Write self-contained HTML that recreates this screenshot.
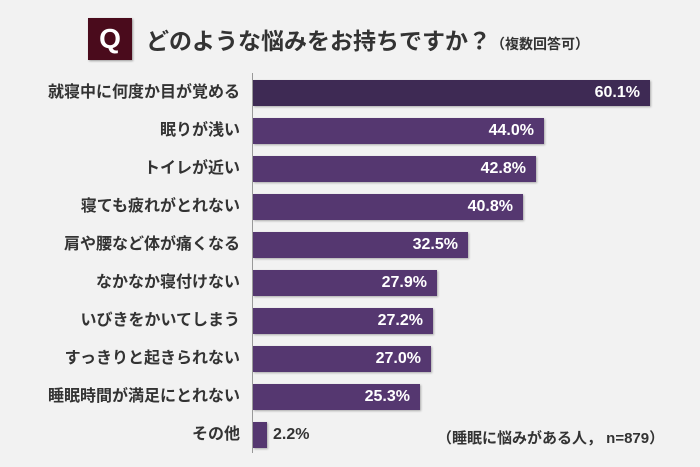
<!DOCTYPE html>
<html><head><meta charset="utf-8"><style>
body{margin:0;width:700px;height:467px;background:#f2f2f2;font-family:"Liberation Sans","Noto Sans CJK JP",sans-serif;position:relative;overflow:hidden}
.q{position:absolute;left:88px;top:18px;width:44px;height:42px;background:#4a0b1c;color:#fff;font-size:28px;font-weight:bold;line-height:42px;text-align:center;box-shadow:1px 1px 2px #999}
.t{position:absolute;left:146px;top:22px;font-size:23px;color:#333;font-weight:bold;white-space:nowrap}
.t small{font-size:14px}
.ax{position:absolute;left:252px;top:73px;width:1px;height:380px;background:#999}
.lab{position:absolute;right:460px;font-size:16px;font-weight:bold;color:#333;white-space:nowrap;line-height:20px}
.bar{position:absolute;left:253px;height:26px;background:#553770;box-shadow:1px 1px 2px #aaa}
.v{position:absolute;font-size:16px;font-weight:bold;color:#fff;line-height:26px;text-align:right;width:80px}
</style></head><body>
<div class="q">Q</div>
<div class="t">どのような悩みをお持ちですか？<small>（複数回答可）</small></div>
<div class="ax"></div>
<div class="lab" style="top:83px">就寝中に何度か目が覚める</div>
<div class="bar" style="top:80px;width:397px;background:#3e2a54"></div><div class="v" style="top:80px;left:560px">60.1%</div>
<div class="lab" style="top:121px">眠りが浅い</div>
<div class="bar" style="top:118px;width:291px"></div><div class="v" style="top:118px;left:454px">44.0%</div>
<div class="lab" style="top:159px">トイレが近い</div>
<div class="bar" style="top:156px;width:283px"></div><div class="v" style="top:156px;left:446px">42.8%</div>
<div class="lab" style="top:197px">寝ても疲れがとれない</div>
<div class="bar" style="top:194px;width:270px"></div><div class="v" style="top:194px;left:433px">40.8%</div>
<div class="lab" style="top:235px">肩や腰など体が痛くなる</div>
<div class="bar" style="top:232px;width:215px"></div><div class="v" style="top:232px;left:378px">32.5%</div>
<div class="lab" style="top:273px">なかなか寝付けない</div>
<div class="bar" style="top:270px;width:184px"></div><div class="v" style="top:270px;left:347px">27.9%</div>
<div class="lab" style="top:311px">いびきをかいてしまう</div>
<div class="bar" style="top:308px;width:180px"></div><div class="v" style="top:308px;left:343px">27.2%</div>
<div class="lab" style="top:349px">すっきりと起きられない</div>
<div class="bar" style="top:346px;width:178px"></div><div class="v" style="top:346px;left:341px">27.0%</div>
<div class="lab" style="top:387px">睡眠時間が満足にとれない</div>
<div class="bar" style="top:384px;width:167px"></div><div class="v" style="top:384px;left:330px">25.3%</div>
<div class="lab" style="top:425px">その他</div>
<div class="bar" style="top:422px;width:14px"></div><div class="v" style="top:422px;left:273px;color:#333;text-align:left">2.2%</div>
<div style="position:absolute;left:437px;top:427px;font-size:15px;font-weight:bold;color:#333;white-space:nowrap">（睡眠に悩みがある人， n=879）</div>
</body></html>
